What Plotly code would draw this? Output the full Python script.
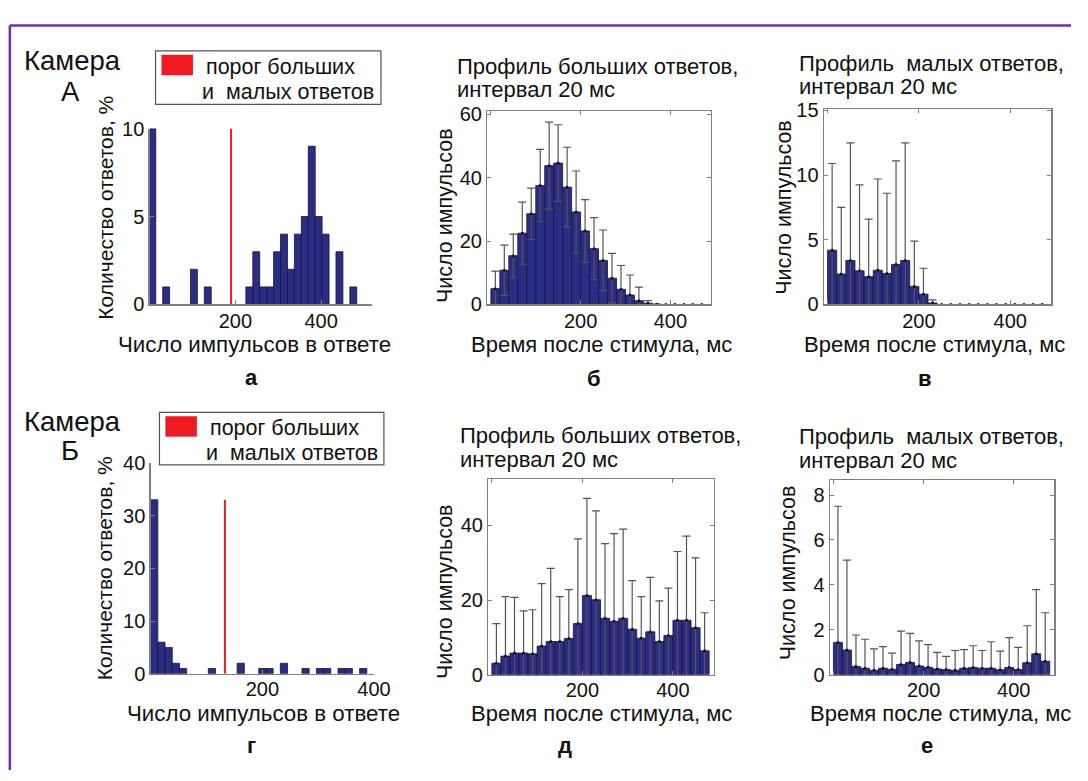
import plotly.graph_objects as go

W, H = 1088, 781

# ---------------- data ----------------
# Panel а: histogram of spikes per response (camera A)
a_centers = [6.3, 38.6, 103.3, 135.6, 232.6, 248.8, 265.0, 281.1, 297.3, 313.5,
             329.7, 345.8, 362.0, 378.2, 394.3, 410.5, 442.8, 475.2]
a_counts = [10, 1, 2, 1, 1, 3, 1, 1, 3, 4, 2, 4, 5, 9, 5, 4, 3, 1]
a_bin_width = 16.17
a_threshold = 190

# Panel г: histogram of spikes per response (camera Б)
g_centers = [6.5, 19.4, 32.3, 45.2, 58.1, 109.7, 161.3, 200.0, 212.9, 238.7,
             277.4, 303.2, 316.1, 341.9, 354.8, 380.6]
g_counts = [33, 6, 5, 2, 1, 1, 2, 1, 1, 2, 1, 1, 1, 1, 1, 1]
g_bin_width = 12.9
g_threshold = 133

# time bins (20 ms) for profiles
time_bins = [10, 30, 50, 70, 90, 110, 130, 150, 170, 190, 210, 230,
             250, 270, 290, 310, 330, 350, 370, 390, 410, 430, 450, 470]

# Panel б: large responses profile, camera A
b_mean = [5.0, 10.8, 15.4, 22.5, 28.6, 37.5, 43.8, 44.6, 37.0, 29.2, 23.2, 17.6,
          13.9, 8.3, 4.8, 3.0, 1.2, 0.4, 0.05, 0, 0, 0, 0, 0]
b_std = [5.5, 7.9, 6.8, 9.8, 8.1, 11.4, 13.7, 12.1, 12.6, 12.9, 9.9, 9.8,
         9.6, 7.8, 7.5, 6.3, 4.3, 0.8, 0.1, 0, 0, 0, 0, 0]

# Panel в: small responses profile, camera A
v_mean = [4.2, 2.35, 3.4, 2.6, 2.15, 2.65, 2.4, 3.1, 3.4, 1.4, 0.8, 0.12,
          0, 0, 0, 0, 0, 0, 0, 0, 0, 0, 0, 0]
v_std = [6.7, 5.15, 9.1, 6.65, 4.45, 7.05, 6.2, 8.0, 9.1, 3.5, 2.0, 0.23,
         0, 0, 0, 0, 0, 0, 0, 0, 0, 0, 0, 0]

# Panel д: large responses profile, camera Б
d_mean = [3.1, 5.0, 5.8, 5.8, 5.6, 7.7, 8.9, 8.9, 9.7, 13.7, 21.2, 20.1,
          15.1, 14.3, 15.1, 12.2, 9.8, 11.5, 8.9, 10.5, 14.6, 14.6, 12.6, 6.4]
d_std = [10.6, 15.9, 14.9, 11.3, 11.8, 16.7, 19.6, 12.0, 13.1, 22.7, 26.0, 23.8,
         20.0, 23.5, 23.9, 13.0, 11.1, 14.6, 10.9, 12.7, 18.4, 22.5, 18.7, 10.2]

# Panel е: small responses profile, camera Б
e_mean = [1.44, 1.1, 0.37, 0.29, 0.2, 0.29, 0.24, 0.46, 0.55, 0.39, 0.33, 0.26,
          0.23, 0.2, 0.29, 0.32, 0.29, 0.29, 0.22, 0.32, 0.23, 0.53, 0.93, 0.6]
e_std = [6.06, 4.0, 1.4, 1.29, 0.95, 0.96, 0.72, 1.48, 1.29, 1.12, 1.01, 0.74,
         0.59, 0.88, 0.83, 0.97, 0.79, 1.18, 0.83, 1.33, 0.99, 1.65, 2.86, 2.16]

# ---------------- style ----------------
FONT = "Liberation Sans, Arial, sans-serif"
NAVY = "#2B2C84"
EDGE = "#15153a"
RED = "#ED1C24"
AXC = "#808080"
ERRC = "#555555"
TXT = "#111111"


def px_x(x0, x1):
    return [x0 / W, x1 / W]


def px_y(y_top, y_bot):
    return [1 - y_bot / H, 1 - y_top / H]


fig = go.Figure()

# histograms
for cx, cnt, bw, thr, ax in [(a_centers, a_counts, a_bin_width, a_threshold, ""),
                             (g_centers, g_counts, g_bin_width, g_threshold, "4")]:
    fig.add_trace(go.Bar(x=cx, y=cnt, width=bw,
                         marker=dict(color=NAVY, line=dict(color=EDGE, width=0.8)),
                         xaxis="x" + ax, yaxis="y" + ax, showlegend=False))
    fig.add_trace(go.Scatter(x=[thr, thr], y=[0, max(cnt)], mode="lines",
                             line=dict(color=RED, width=2),
                             xaxis="x" + ax, yaxis="y" + ax, showlegend=False))

# profiles
for mean, std, ax in [(b_mean, b_std, "2"), (v_mean, v_std, "3"),
                      (d_mean, d_std, "5"), (e_mean, e_std, "6")]:
    fig.add_trace(go.Bar(x=time_bins, y=mean, width=20,
                         marker=dict(color=NAVY, line=dict(color=EDGE, width=0.8)),
                         xaxis="x" + ax, yaxis="y" + ax, showlegend=False))
    fig.add_trace(go.Scatter(x=time_bins, y=mean, mode="markers",
                             marker=dict(size=1, color="rgba(0,0,0,0)"),
                             error_y=dict(type="data", array=std, symmetric=True,
                                          color=ERRC, thickness=1.2, width=4),
                             xaxis="x" + ax, yaxis="y" + ax, showlegend=False))
    fig.add_trace(go.Scatter(x=time_bins, y=mean, mode="markers",
                             marker=dict(size=3, color="#111111"), cliponaxis=False,
                             xaxis="x" + ax, yaxis="y" + ax, showlegend=False))

tickfont = dict(family=FONT, size=20, color=TXT)


def axis(domain, rng, tickvals, ticktext=None, box=False, anchor=None, standoff=None):
    d = dict(domain=domain, range=rng, showgrid=False, zeroline=False,
             showline=True, linecolor=AXC, linewidth=1.3,
             ticks="inside", ticklen=4, tickcolor=AXC, tickwidth=1,
             tickvals=tickvals, tickfont=tickfont, mirror="ticks" if box else False,
             fixedrange=True)
    if ticktext is not None:
        d["ticktext"] = ticktext
    if anchor:
        d["anchor"] = anchor
    if standoff is not None:
        d["ticklabelstandoff"] = standoff
    return d


xt = [0, 200, 400]
xtt = ["", "200", "400"]
fig.update_layout(
    xaxis=axis(px_x(152, 378), [0, 519], xt, xtt, anchor="y", standoff=-2),
    yaxis=axis(px_y(121, 302), [0, 10], [0, 5, 10], anchor="x"),
    xaxis2=axis(px_x(495, 722), [-8, 490], xt, xtt, box=True, anchor="y2", standoff=-2),
    yaxis2=axis(px_y(103, 302), [0, 61], [0, 20, 40, 60], box=True, anchor="x2"),
    xaxis3=axis(px_x(837, 1068), [-8, 490], xt, xtt, box=True, anchor="y3", standoff=-2),
    yaxis3=axis(px_y(101, 302), [0, 15.1], [0, 5, 10, 15], box=True, anchor="x3"),
    xaxis4=axis(px_x(153, 380), [0, 400], xt, xtt, anchor="y4", standoff=-3),
    yaxis4=axis(px_y(465, 682), [0, 40], [0, 10, 20, 30, 40], anchor="x4"),
    xaxis5=axis(px_x(496, 725), [-8, 490], xt, xtt, box=True, anchor="y5", standoff=-3),
    yaxis5=axis(px_y(482, 683), [0, 52.3], [0, 20, 40], box=True, anchor="x5"),
    xaxis6=axis(px_x(843, 1071), [-8, 490], xt, xtt, box=True, anchor="y6", standoff=-3),
    yaxis6=axis(px_y(483, 683), [0, 8.65], [0, 2, 4, 6, 8], box=True, anchor="x6"),
)

ann = []


def text(x, y, s, size=20, xanchor="center", yanchor="middle", angle=0, bold=False):
    if bold:
        s = "<b>" + s + "</b>"
    ann.append(dict(x=x / W, y=1 - y / H, xref="paper", yref="paper", text=s,
                    showarrow=False, xanchor=xanchor, yanchor=yanchor, textangle=angle,
                    font=dict(family=FONT, size=size, color=TXT)))


# camera labels
text(22, 51, "Камера", 27.5, xanchor="left")
text(72, 83, "А", 27.5)
text(22, 422, "Камера", 27.5, xanchor="left")
text(71, 452, "Б", 27.5)

# legend texts
text(207, 58, "порог больших", 21.5, xanchor="left")
text(203, 83, "и&nbsp;&nbsp;малых ответов", 21.5, xanchor="left")
text(211, 429, "порог больших", 21.5, xanchor="left")
text(207, 455, "и&nbsp;&nbsp;малых ответов", 21.5, xanchor="left")

# titles
for (x, y1, y2, s) in [(462, 57, 81, "Профиль больших ответов,"),
                       (810, 54, 78, "Профиль&nbsp; малых ответов,"),
                       (465, 437, 461, "Профиль больших ответов,"),
                       (810, 438, 463, "Профиль&nbsp; малых ответов,")]:
    text(x, y1, s, 22, xanchor="left")
    text(x, y2, "интервал 20 мс", 22, xanchor="left")

# axis titles
text(107, 202, "Количество ответов, %", 21, angle=-90)
text(107, 573, "Количество ответов, %", 21, angle=-90)
text(259, 343, "Число импульсов в ответе", 22.3)
text(268, 723, "Число импульсов в ответе", 22.3)
text(452, 210, "Число импульсов", 21.5, angle=-90)
text(797, 202, "Число импульсов", 21.5, angle=-90)
text(452, 597, "Число импульсов", 21.5, angle=-90)
text(800, 578, "Число импульсов", 21.5, angle=-90)
text(611, 343, "Время после стимула, мс", 22)
text(949, 343, "Время после стимула, мс", 22)
text(611, 723, "Время после стимула, мс", 22)
text(955, 723, "Время после стимула, мс", 22)

# panel letters
text(255, 377, "а", 22, bold=True)
text(603, 378, "б", 22, bold=True)
text(940, 378, "в", 22, bold=True)
text(255, 756, "г", 22, bold=True)
text(574, 756, "д", 22, bold=True)
text(942, 756, "е", 22, bold=True)

shapes = []


def rect(x0, y0, x1, y1, line=None, fill=None):
    shapes.append(dict(type="rect", xref="paper", yref="paper",
                       x0=x0 / W, x1=x1 / W, y0=1 - y1 / H, y1=1 - y0 / H,
                       line=line or dict(width=0), fillcolor=fill or "rgba(0,0,0,0)",
                       layer="above"))


# legend boxes
rect(158, 41, 387, 96, line=dict(color="#555555", width=1.2), fill="white")
rect(164, 45, 196, 66, fill=RED)
rect(162, 413, 390, 467, line=dict(color="#555555", width=1.2), fill="white")
rect(168, 417, 200, 438, fill=RED)

# purple frame (top and left edges)
PURPLE = "#7030A0"
shapes.append(dict(type="line", xref="paper", yref="paper", x0=10 / W, x1=1.0,
                   y0=1 - 15 / H, y1=1 - 15 / H, line=dict(color=PURPLE, width=2.5)))
shapes.append(dict(type="line", xref="paper", yref="paper", x0=10 / W, x1=10 / W,
                   y0=1 - 15 / H, y1=0, line=dict(color=PURPLE, width=2.5)))

fig.update_layout(
    width=W, height=H, margin=dict(l=0, r=0, t=0, b=0),
    paper_bgcolor="white", plot_bgcolor="white",
    annotations=ann, shapes=shapes, showlegend=False,
    bargap=0, font=dict(family=FONT, color=TXT),
)

fig.write_html("out.html",
               config={"displayModeBar": False, "staticPlot": True},
               post_script="document.body.style.margin='0';"
                           "document.body.style.overflow='hidden';")
